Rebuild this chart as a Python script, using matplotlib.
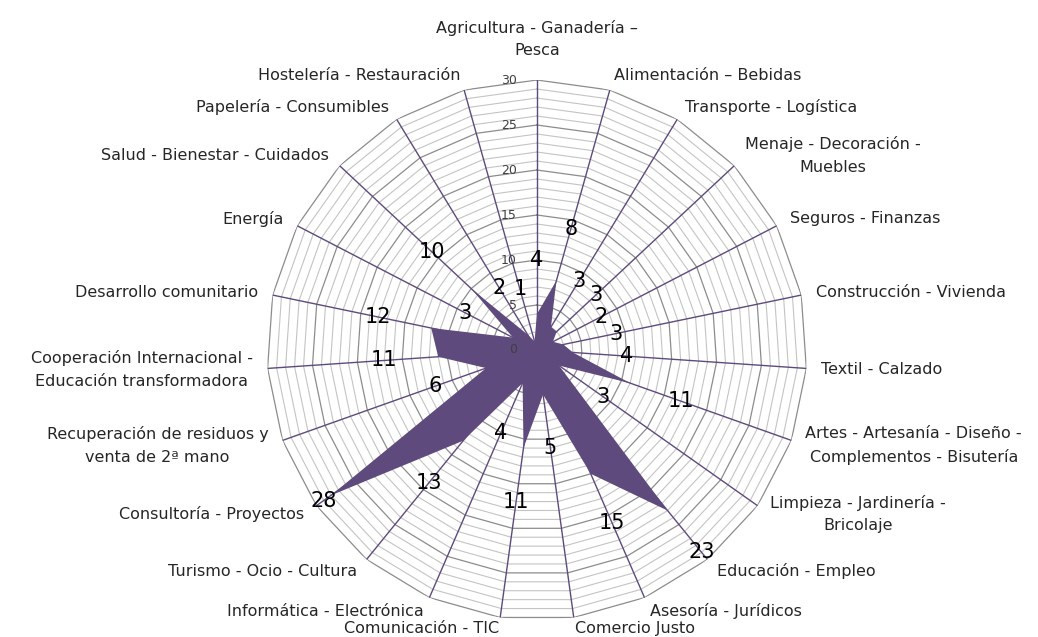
import numpy as np
import matplotlib
matplotlib.use("Agg")
import matplotlib.pyplot as plt

# categories clockwise from the top
categories = [
    "Agricultura - Ganadería –\nPesca",
    "Alimentación – Bebidas",
    "Transporte - Logística",
    "Menaje - Decoración -\nMuebles",
    "Seguros - Finanzas",
    "Construcción - Vivienda",
    "Textil - Calzado",
    "Artes - Artesanía - Diseño -\nComplementos - Bisutería",
    "Limpieza - Jardinería -\nBricolaje",
    "Educación - Empleo",
    "Asesoría - Jurídicos",
    "Comercio Justo",
    "Comunicación - TIC",
    "Informática - Electrónica",
    "Turismo - Ocio - Cultura",
    "Consultoría - Proyectos",
    "Recuperación de residuos y\nventa de 2ª mano",
    "Cooperación Internacional -\nEducación transformadora",
    "Desarrollo comunitario",
    "Energía",
    "Salud - Bienestar - Cuidados",
    "Papelería - Consumibles",
    "Hostelería - Restauración",
]
values = [4, 8, 3, 3, 2, 3, 4, 11, 3, 23, 15, 5, 11, 4, 13, 28, 6, 11, 12, 3, 10, 2, 1]
r_ticks = [0, 5, 10, 15, 20, 25, 30]

purple = "#5F4A7D"
rmax = 30

plt.rcParams['font.family'] = ['DejaVu Sans']

fig = plt.figure(figsize=(10.38, 6.37), dpi=100)
ax = fig.add_axes([0.2572, 0.0267, 0.5202, 0.8477], projection='polar')
ax.set_theta_zero_location('N')
ax.set_theta_direction(-1)
ax.set_ylim(0, rmax)
ax.grid(False)
ax.spines['polar'].set_visible(False)
ax.set_xticks([])
ax.set_yticks([])
ax.patch.set_alpha(0)

n = len(categories)
theta = np.arange(n) * 2 * np.pi / n
theta_closed = np.append(theta, theta[0])

# polygon rings, one per unit
for r in range(1, rmax + 1):
    if r % 5 == 0:
        col, lw = "#8C8C8C", 0.9
    else:
        col, lw = "#C4C4C4", 0.8
    ax.plot(theta_closed, [r] * (n + 1), color=col, lw=lw, zorder=1)

# spokes
for t in theta:
    ax.plot([t, t], [0, rmax], color=purple, lw=1.0, zorder=2)

# data polygon
vals_closed = values + values[:1]
ax.fill(theta_closed, vals_closed, color=purple, zorder=3, lw=0)

# radial tick labels
for v in r_ticks:
    ax.annotate(str(v), xy=(0, v), xytext=(-20, 0), textcoords='offset pixels',
                ha='right', va='center', fontsize=9, color="#404040", zorder=5)

# category labels
for t, lab in zip(theta, categories):
    s, c = np.sin(t), np.cos(t)
    if abs(s) < 0.05:
        ax.annotate(lab, xy=(t, rmax), xytext=(0, 22), textcoords='offset pixels',
                    ha='center', va='bottom', fontsize=11.5, color="#262626",
                    multialignment='center', linespacing=1.6)
    else:
        d = 15 if c > -0.95 else 11
        ax.annotate(lab, xy=(t, rmax), xytext=(d * s, d * c), textcoords='offset pixels',
                    ha='left' if s > 0 else 'right', va='center', fontsize=11.5,
                    color="#262626", multialignment='center', linespacing=1.6)

# data labels
for t, v in zip(theta, values):
    rl = min(v + 6, 29)
    ax.text(t, rl, str(v), ha='center', va='center', fontsize=15, color="black", zorder=6)

fig.savefig("out.png", dpi=100)
